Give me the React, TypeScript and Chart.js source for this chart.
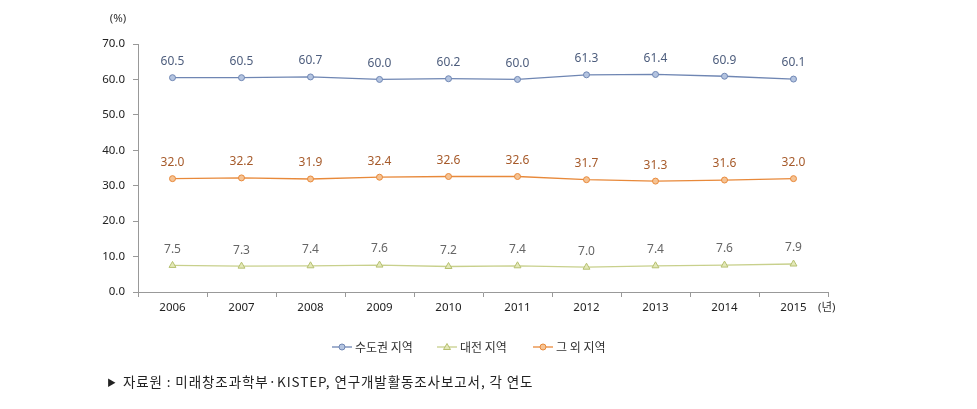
import React, { useEffect, useRef } from "react";
import { Chart, registerables } from "chart.js";

Chart.register(...registerables);

const years = ["2006", "2007", "2008", "2009", "2010", "2011", "2012", "2013", "2014", "2015"];
const capital = [60.5, 60.5, 60.7, 60.0, 60.2, 60.0, 61.3, 61.4, 60.9, 60.1];
const daejeon = [7.5, 7.3, 7.4, 7.6, 7.2, 7.4, 7.0, 7.4, 7.6, 7.9];
const others = [32.0, 32.2, 31.9, 32.4, 32.6, 32.6, 31.7, 31.3, 31.6, 32.0];
const seriesNames = ["수도권 지역", "대전 지역", "그 외 지역"];
const yUnit = "(%)";
const xUnit = "(년)";
const sourceText = "자료원 : 미래창조과학부·KISTEP, 연구개발활동조사보고서, 각 연도";

const FONT = "'Noto Sans', 'Noto Sans CJK KR', sans-serif";

const labelColors = ["#4d5d7d", "#666666", "#a65a2a"];

const extrasPlugin = {
  id: "extras",
  afterDatasetsDraw(chart: any) {
    const ctx = chart.ctx;
    ctx.save();
    ctx.font = `12px ${FONT}`;
    ctx.textAlign = "center";
    ctx.textBaseline = "middle";
    chart.data.datasets.forEach((ds: any, i: number) => {
      const meta = chart.getDatasetMeta(i);
      meta.data.forEach((pt: any, j: number) => {
        ctx.fillStyle = labelColors[i];
        ctx.fillText(Number(ds.data[j]).toFixed(1), pt.x, pt.y - 16);
      });
    });
    // units
    ctx.fillStyle = "#333";
    ctx.font = `11.5px ${FONT}`;
    ctx.fillText(yUnit, 118, 19);
    ctx.textAlign = "left";
    ctx.fillText(xUnit, 818, 308);
    // legend
    const items = [
      { x: 332, tx: 355 },
      { x: 437, tx: 460 },
      { x: 533, tx: 556 },
    ];
    const ly = 347;
    ctx.font = `12px 'Noto Sans CJK KR', sans-serif`;
    chart.data.datasets.forEach((ds: any, i: number) => {
      const it = items[i];
      ctx.strokeStyle = ds.borderColor;
      ctx.lineWidth = 1.3;
      ctx.beginPath();
      ctx.moveTo(it.x, ly);
      ctx.lineTo(it.x + 20, ly);
      ctx.stroke();
      ctx.fillStyle = ds.pointBackgroundColor;
      ctx.strokeStyle = ds.pointBorderColor;
      ctx.lineWidth = 1;
      ctx.beginPath();
      const cx = it.x + 10;
      if (ds.pointStyle === "triangle") {
        ctx.moveTo(cx, ly - 3.5);
        ctx.lineTo(cx + 3.5, ly + 2.5);
        ctx.lineTo(cx - 3.5, ly + 2.5);
        ctx.closePath();
      } else {
        ctx.arc(cx, ly, 3, 0, Math.PI * 2);
      }
      ctx.fill();
      ctx.stroke();
      ctx.fillStyle = "#333";
      ctx.textAlign = "left";
      ctx.fillText(seriesNames[i], it.tx, ly);
    });
    ctx.restore();
  },
};

export default function App() {
  const ref = useRef<HTMLCanvasElement | null>(null);
  useEffect(() => {
    if (!ref.current) return;
    const chart = new Chart(ref.current, {
      type: "line",
      data: {
        labels: years,
        datasets: [
          {
            label: seriesNames[0],
            data: capital,
            borderColor: "#6f86b3",
            backgroundColor: "#6f86b3",
            pointBackgroundColor: "#b4c4e0",
            pointBorderColor: "#6f86b3",
            pointRadius: 3,
            pointBorderWidth: 1,
            borderWidth: 1.3,
            pointStyle: "circle",
          },
          {
            label: seriesNames[1],
            data: daejeon,
            borderColor: "#c8d08c",
            backgroundColor: "#c8d08c",
            pointBackgroundColor: "#e3e8b8",
            pointBorderColor: "#b6c070",
            pointRadius: 4,
            pointBorderWidth: 1,
            borderWidth: 1.3,
            pointStyle: "triangle",
          },
          {
            label: seriesNames[2],
            data: others,
            borderColor: "#e8893a",
            backgroundColor: "#e8893a",
            pointBackgroundColor: "#f5c394",
            pointBorderColor: "#e8893a",
            pointRadius: 3,
            pointBorderWidth: 1,
            borderWidth: 1.3,
            pointStyle: "circle",
          },
        ],
      },
      options: {
        animation: false,
        responsive: false,
        maintainAspectRatio: false,
        layout: { padding: { left: 0, right: 149, top: 44, bottom: 0 } },
        plugins: { legend: { display: false }, tooltip: { enabled: false } },
        scales: {
          x: {
            offset: true,
            grid: {
              offset: true,
              drawOnChartArea: false,
              drawTicks: true,
              tickLength: 5,
              color: "#999",
            },
            border: { color: "#999", width: 1 },
            ticks: { color: "#222", font: { family: FONT, size: 11.5 }, padding: 4, maxRotation: 0 },
            afterFit: (s: any) => {
              s.height = 117;
            },
          },
          y: {
            min: 0,
            max: 70,
            grid: { drawOnChartArea: false, drawTicks: true, tickLength: 5, color: "#999" },
            border: { color: "#999", width: 1 },
            ticks: {
              stepSize: 10,
              color: "#222",
              font: { family: FONT, size: 11.5 },
              padding: 8,
              callback: (v: any) => Number(v).toFixed(1),
            },
            afterFit: (s: any) => {
              s.width = 138;
            },
          },
        },
      },
      plugins: [extrasPlugin],
    });
    return () => chart.destroy();
  }, []);
  return (
    <div style={{ position: "absolute", left: 0, top: 0, width: 977, height: 409, background: "#fff" }}>
      <canvas ref={ref} width={977} height={409} style={{ position: "absolute", left: 0, top: 0 }} />
      <div
        style={{
          position: "absolute",
          left: 107,
          top: 372,
          fontFamily: "'Noto Sans CJK KR', sans-serif",
          fontSize: 13.5,
          letterSpacing: "0.9px",
          color: "#222",
          whiteSpace: "nowrap",
          lineHeight: "18px",
        }}
      >
        <span style={{ fontSize: 9, marginRight: 6, position: "relative", top: -1 }}>▶</span>
        {sourceText}
      </div>
    </div>
  );
}
